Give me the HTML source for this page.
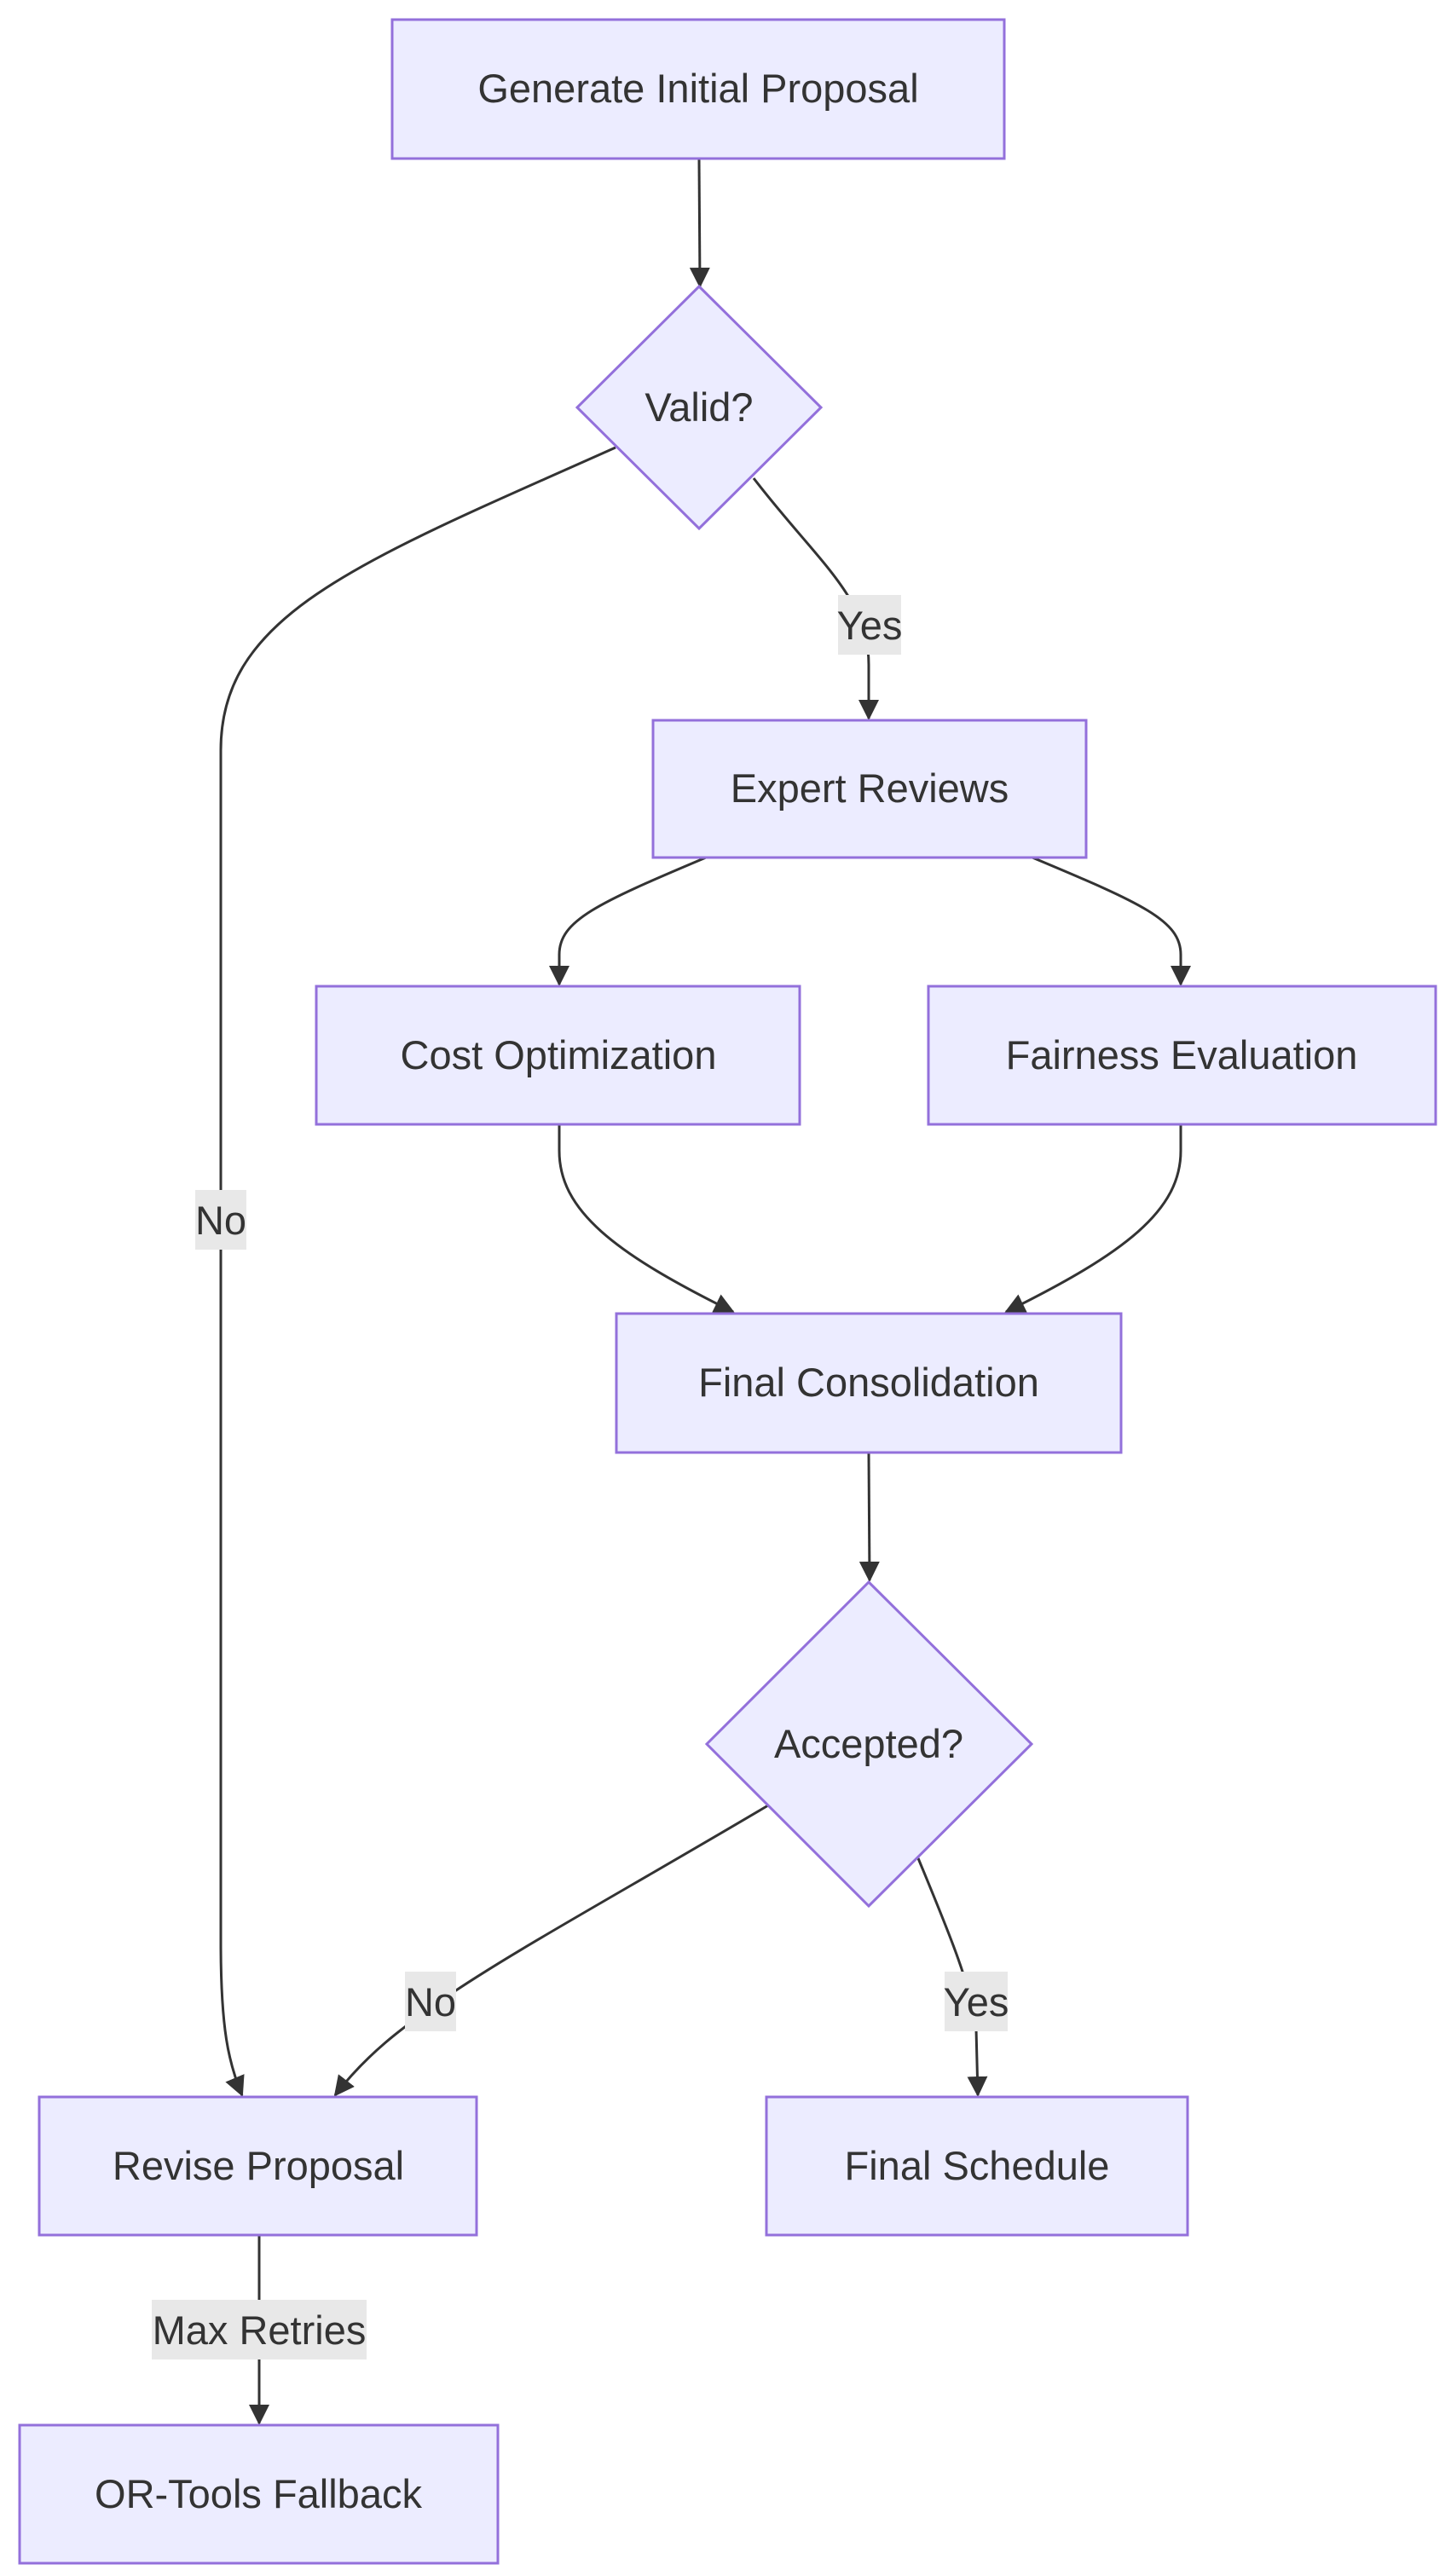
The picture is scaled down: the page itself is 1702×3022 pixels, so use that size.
<!DOCTYPE html>
<html><head><meta charset="utf-8"><style>
html,body{margin:0;padding:0;background:#fff;}
svg{display:block}
text{font-family:"Liberation Sans",sans-serif;font-size:47px;fill:#333;}
.n{fill:#ECECFF;stroke:#9370DB;stroke-width:3;}
.e{fill:none;stroke:#333;stroke-width:3;}
.lb{fill:#e8e8e8;}
</style></head><body>
<svg width="1702" height="3022" viewBox="0 0 1702 3022" xmlns="http://www.w3.org/2000/svg">
<defs><marker id="a" viewBox="0 0 12 12" refX="11" refY="6" markerWidth="8" markerHeight="8" markerUnits="strokeWidth" orient="auto"><path d="M0,0 L12,6 L0,12 z" fill="#333"/></marker></defs>

<path class="e" marker-end="url(#a)" d="M820,186 L821,336"/>
<path class="e" marker-end="url(#a)" d="M722,525 C420,660 259,720 259,880 L259,2280 C259,2380 268,2420 284,2458"/>
<path class="e" marker-end="url(#a)" d="M884,561 C960,660 1019,700 1019,780 L1019,843"/>
<path class="e" marker-end="url(#a)" d="M828,1006 C700,1060 656,1080 656,1120 L656,1155"/>
<path class="e" marker-end="url(#a)" d="M1211,1006 C1340,1060 1385,1080 1385,1120 L1385,1155"/>
<path class="e" marker-end="url(#a)" d="M656,1319 L656,1350 C656,1420 720,1470 860,1539"/>
<path class="e" marker-end="url(#a)" d="M1385,1319 L1385,1350 C1385,1420 1320,1470 1180,1539"/>
<path class="e" marker-end="url(#a)" d="M1019,1704 L1020,1854"/>
<path class="e" marker-end="url(#a)" d="M901,2118 C720,2225 600,2290 520,2345 C470,2380 430,2410 393,2458"/>
<path class="e" marker-end="url(#a)" d="M1077,2180 C1110,2260 1140,2330 1145,2380 L1147,2458"/>
<path class="e" marker-end="url(#a)" d="M304,2622 L304,2843"/>

<rect class="n" x="460" y="23" width="718" height="163"/>
<text x="819" y="120" text-anchor="middle">Generate Initial Proposal</text>

<polygon class="n" points="820,336 963,478 820,620 677,478"/>
<text x="820" y="494" text-anchor="middle">Valid?</text>

<rect class="n" x="766" y="845" width="508" height="161"/>
<text x="1020" y="941" text-anchor="middle">Expert Reviews</text>

<rect class="n" x="371" y="1157" width="567" height="162"/>
<text x="655" y="1254" text-anchor="middle">Cost Optimization</text>

<rect class="n" x="1089" y="1157" width="595" height="162"/>
<text x="1386" y="1254" text-anchor="middle">Fairness Evaluation</text>

<rect class="n" x="723" y="1541" width="592" height="163"/>
<text x="1019" y="1638" text-anchor="middle">Final Consolidation</text>

<polygon class="n" points="1019,1856 1210,2046 1019,2236 829,2046"/>
<text x="1019" y="2062" text-anchor="middle">Accepted?</text>

<rect class="n" x="46" y="2460" width="513" height="162"/>
<text x="303" y="2557" text-anchor="middle">Revise Proposal</text>

<rect class="n" x="899" y="2460" width="494" height="162"/>
<text x="1146" y="2557" text-anchor="middle">Final Schedule</text>

<rect class="n" x="23" y="2845" width="561" height="162"/>
<text x="303" y="2942" text-anchor="middle">OR-Tools Fallback</text>

<rect class="lb" x="983" y="698" width="74" height="70"/>
<text x="1020" y="750" text-anchor="middle">Yes</text>
<rect class="lb" x="229" y="1396" width="60" height="70"/>
<text x="259" y="1448" text-anchor="middle">No</text>
<rect class="lb" x="475" y="2313" width="60" height="70"/>
<text x="505" y="2365" text-anchor="middle">No</text>
<rect class="lb" x="1108" y="2313" width="74" height="70"/>
<text x="1145" y="2365" text-anchor="middle">Yes</text>
<rect class="lb" x="178" y="2698" width="252" height="70"/>
<text x="304" y="2750" text-anchor="middle">Max Retries</text>
</svg>
</body></html>
